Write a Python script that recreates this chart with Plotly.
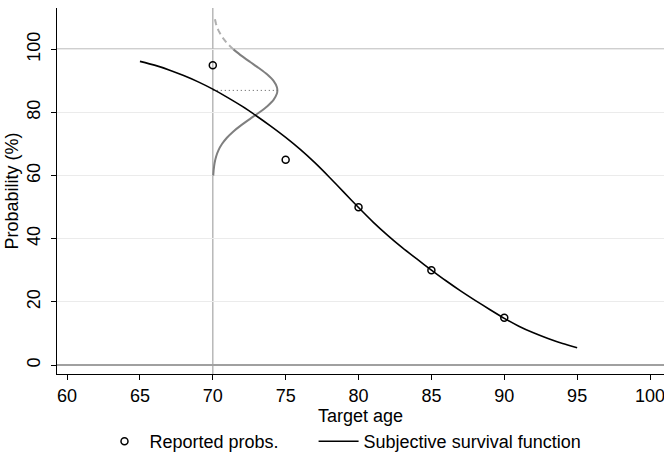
import plotly.graph_objects as go

# Reported probabilities
rep_age = [70, 75, 80, 85, 90]
rep_prob = [95, 65, 50, 30, 15]

# Subjective survival function
surv_age = list(range(65, 96))
surv_prob = [96.2, 95.0, 93.5, 91.7, 89.7, 87.4, 84.8, 82.0, 78.9, 75.6,
             72.1, 68.3, 64.1, 59.5, 54.7, 49.9, 45.3, 41.1, 37.2, 33.6,
             30.1, 26.7, 23.5, 20.5, 17.6, 14.8, 12.3, 10.2, 8.4, 6.8, 5.5]

# Sideways density around the age-70 answer (x positions vs probability)
dens_y_solid = [60, 62, 64, 66, 68, 70, 72, 74, 76, 78, 80, 82, 84, 86, 87,
                88, 90, 92, 94, 96, 98, 100]
dens_x_solid = [70.03, 70.065, 70.124, 70.225, 70.386, 70.628, 70.968, 71.413,
                71.955, 72.561, 73.181, 73.742, 74.169, 74.40, 74.43,
                74.40, 74.169, 73.742, 73.181, 72.561, 71.955, 71.413]
dens_y_dash = [100, 102, 104, 106, 108, 110]
dens_x_dash = [71.413, 70.968, 70.628, 70.386, 70.225, 70.124]

dens_mean = 87
dens_peak = 74.43
anchor_age = 70

xticks = [60, 65, 70, 75, 80, 85, 90, 95, 100]
yticks = [0, 20, 40, 60, 80, 100]

NB = "\u00a0"

fig = go.Figure()

fig.add_trace(go.Scatter(x=dens_x_solid, y=dens_y_solid, mode="lines",
                         line=dict(color="#7f7f7f", width=2, shape="spline", smoothing=0.6),
                         showlegend=False, hoverinfo="skip"))
fig.add_trace(go.Scatter(x=dens_x_dash, y=dens_y_dash, mode="lines",
                         line=dict(color="#b0b0b0", width=2, dash="6px,4px"),
                         showlegend=False, hoverinfo="skip"))
fig.add_trace(go.Scatter(x=[anchor_age, dens_peak], y=[dens_mean, dens_mean], mode="lines",
                         line=dict(color="#555555", width=1, dash="1px,3px"),
                         showlegend=False, hoverinfo="skip"))

fig.add_trace(go.Scatter(x=rep_age, y=rep_prob, mode="markers",
                         name="Reported probs." + NB * 6,
                         marker=dict(symbol="circle-open", size=7, color="black",
                                     line=dict(width=1.5, color="black"))))
fig.add_trace(go.Scatter(x=surv_age, y=surv_prob, mode="lines",
                         name="Subjective survival function",
                         line=dict(color="black", width=1.6, shape="spline", smoothing=0.6)))

fig.add_shape(type="line", xref="paper", yref="y", x0=0, x1=1, y0=100, y1=100,
              line=dict(color="#a0a0a0", width=1.5), layer="below")
fig.add_shape(type="line", xref="x", yref="paper", x0=anchor_age, x1=anchor_age, y0=0, y1=1,
              line=dict(color="#b8b8b8", width=1.5), layer="below")

font = "Liberation Sans, Arial, Helvetica, sans-serif"
fsz = 18

def f(size=fsz):
    return dict(family=font, size=size, color="black")

fig.update_layout(
    width=664, height=460,
    margin=dict(l=57, r=0, t=8, b=83),
    paper_bgcolor="white", plot_bgcolor="white",
    font=f(),
    showlegend=True,
    legend=dict(orientation="h", x=0.07, xanchor="left", y=-0.185, yanchor="middle",
                itemwidth=40, font=f(), bgcolor="rgba(0,0,0,0)"),
    xaxis=dict(range=[59.31, 100.96], tickvals=xticks, ticks="outside", ticklen=5,
               tickcolor="black", showline=True, linecolor="black", linewidth=1,
               showgrid=False, zeroline=False, automargin=False,
               ticklabeloverflow="allow",
               tickfont=f(),
               title=dict(text="Target age", standoff=0, font=f())),
    yaxis=dict(range=[-2.83, 113.1], tickvals=yticks, ticks="outside", ticklen=5,
               tickcolor="black", showline=True, linecolor="black", linewidth=1,
               showgrid=True, gridcolor="#ebebeb", gridwidth=1,
               zeroline=True, zerolinecolor="#a0a0a0", zerolinewidth=1.5,
               tickangle=-90, automargin=False, ticklabelstandoff=4,
               tickfont=f(),
               title=dict(text="Probability (%)", standoff=0, font=f())),
)

fig.write_html("out.html")
